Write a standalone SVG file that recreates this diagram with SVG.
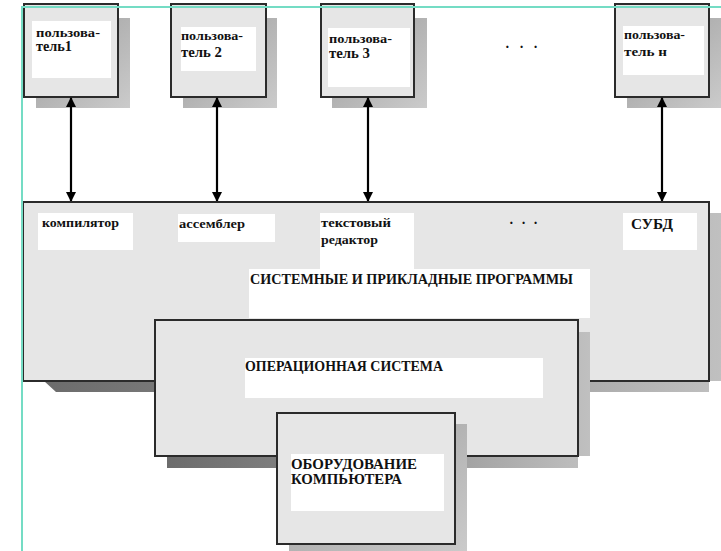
<svg xmlns="http://www.w3.org/2000/svg" width="721" height="551" viewBox="0 0 721 551">
  <defs>
    <linearGradient id="shade" x1="0" y1="0" x2="1" y2="1">
      <stop offset="0" stop-color="#9c9c9c"/>
      <stop offset="1" stop-color="#cbcbcb"/>
    </linearGradient>
    <linearGradient id="shadeWide" x1="0" y1="0" x2="1" y2="0">
      <stop offset="0" stop-color="#6c6c6c"/>
      <stop offset="0.5" stop-color="#8e8e8e"/>
      <stop offset="1" stop-color="#c0c0c0"/>
    </linearGradient>
    <marker id="head" viewBox="0 0 10 10" refX="9" refY="5" markerWidth="10" markerHeight="10" markerUnits="userSpaceOnUse" orient="auto-start-reverse">
      <path d="M0,0 L10,5 L0,10 z" fill="#000"/>
    </marker>
  </defs>
  <style>
    .box { fill: #e6e6e6; stroke: #2b2b2b; stroke-width: 2; }
    .shadow { fill: url(#shade); }
    .pad { fill: #ffffff; }
    .t { font-family: "Liberation Serif", "Times New Roman", serif; font-weight: bold; fill: #111; }
    .s { font-size: 13px; }
    .m { font-size: 14px; }
    .l { font-size: 14px; }
    .link { stroke: #000; stroke-width: 2.2; fill: none; marker-start: url(#head); marker-end: url(#head); }
  </style>

  <rect x="0" y="0" width="721" height="551" fill="#ffffff"/>

  <!-- users -->
  <g id="user1">
    <rect class="shadow" x="36" y="18" width="94" height="90"/>
    <rect class="box" x="24" y="4" width="94" height="93"/>
    <rect class="pad" x="32" y="21" width="79" height="57"/>
    <text class="t s" x="36" y="37" textLength="64" lengthAdjust="spacingAndGlyphs">пользова-</text>
    <text class="t m" x="36" y="51" textLength="36" lengthAdjust="spacingAndGlyphs">тель1</text>
  </g>
  <g id="user2">
    <rect class="shadow" x="183" y="18" width="94" height="90"/>
    <rect class="box" x="171" y="4" width="95" height="93"/>
    <rect class="pad" x="181" y="27" width="75" height="44"/>
    <text class="t s" x="181" y="40" textLength="62" lengthAdjust="spacingAndGlyphs">пользова-</text>
    <text class="t m" x="181" y="57" textLength="41" lengthAdjust="spacingAndGlyphs">тель 2</text>
  </g>
  <g id="user3">
    <rect class="shadow" x="332" y="18" width="95" height="90"/>
    <rect class="box" x="321" y="4" width="93" height="93"/>
    <rect class="pad" x="328" y="28" width="82" height="59"/>
    <text class="t s" x="329" y="43" textLength="63" lengthAdjust="spacingAndGlyphs">пользова-</text>
    <text class="t m" x="329" y="58" textLength="41" lengthAdjust="spacingAndGlyphs">тель 3</text>
  </g>
  <g id="dots-users">
    <text class="t l" x="505" y="52" letter-spacing="3">· · ·</text>
  </g>
  <g id="userN">
    <rect class="shadow" x="627" y="18" width="94" height="90"/>
    <rect class="box" x="615" y="4" width="94" height="93"/>
    <rect class="pad" x="623" y="26" width="81" height="49"/>
    <text class="t s" x="624" y="39" textLength="61" lengthAdjust="spacingAndGlyphs">пользова-</text>
    <text class="t s" x="624" y="56" textLength="43" lengthAdjust="spacingAndGlyphs">тель н</text>
  </g>

  <!-- connectors -->
  <g id="connectors">
    <line class="link" x1="71" y1="98" x2="71" y2="201"/>
    <line class="link" x1="217" y1="98" x2="217" y2="201"/>
    <line class="link" x1="368" y1="98" x2="368" y2="201"/>
    <line class="link" x1="662" y1="98" x2="662" y2="201"/>
  </g>

  <!-- application layer -->
  <g id="programs">
    <polygon fill="url(#shadeWide)" points="44,381 721,381 721,213 709,213 709,392 56,392"/>
    <rect class="box" x="23" y="202" width="686" height="179"/>
    <rect class="pad" x="38" y="213" width="95" height="37"/>
    <rect class="pad" x="178" y="214" width="97" height="28"/>
    <rect class="pad" x="320" y="213" width="94" height="58"/>
    <rect class="pad" x="249" y="269" width="341" height="49"/>
    <rect class="pad" x="623" y="213" width="74" height="37"/>
    <text class="t s" x="42" y="227" textLength="77" lengthAdjust="spacingAndGlyphs">компилятор</text>
    <text class="t s" x="179" y="228" textLength="66" lengthAdjust="spacingAndGlyphs">ассемблер</text>
    <text class="t s" x="321" y="227" textLength="70" lengthAdjust="spacingAndGlyphs">текстовый</text>
    <text class="t s" x="321" y="244" textLength="57" lengthAdjust="spacingAndGlyphs">редактор</text>
    <text class="t m" x="509" y="228" letter-spacing="2">· · ·</text>
    <text class="t l" x="631" y="229" textLength="42" lengthAdjust="spacingAndGlyphs">СУБД</text>
    <text class="t l" x="250" y="284" textLength="323" lengthAdjust="spacingAndGlyphs">СИСТЕМНЫЕ И ПРИКЛАДНЫЕ ПРОГРАММЫ</text>
  </g>

  <!-- operating system -->
  <g id="os">
    <polygon fill="url(#shadeWide)" points="167,456 590,456 590,332 578,332 578,468 167,468"/>
    <rect class="box" x="155" y="320" width="423" height="136"/>
    <rect class="pad" x="245" y="358" width="298" height="40"/>
    <text class="t l" x="245" y="371" textLength="198" lengthAdjust="spacingAndGlyphs">ОПЕРАЦИОННАЯ СИСТЕМА</text>
  </g>

  <!-- hardware -->
  <g id="hardware">
    <rect class="shadow" x="289" y="424" width="178" height="130"/>
    <rect class="box" x="277" y="413" width="178" height="131"/>
    <rect class="pad" x="291" y="454" width="153" height="57"/>
    <text class="t l" x="291" y="469" textLength="126" lengthAdjust="spacingAndGlyphs">ОБОРУДОВАНИЕ</text>
    <text class="t l" x="291" y="484" textLength="111" lengthAdjust="spacingAndGlyphs">КОМПЬЮТЕРА</text>
  </g>

  <!-- frame lines -->
  <line x1="22" y1="7" x2="721" y2="7" stroke="#74dcc4" stroke-width="2"/>
  <line x1="22" y1="6" x2="22" y2="551" stroke="#74dcc4" stroke-width="2"/>
</svg>
